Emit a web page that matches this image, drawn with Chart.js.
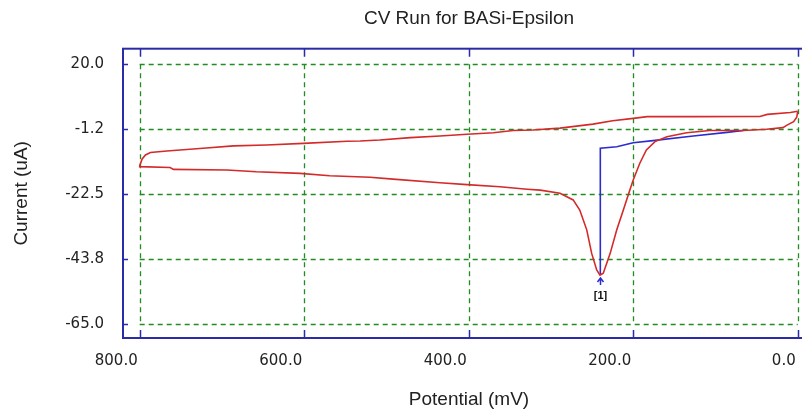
<!DOCTYPE html>
<html>
<head>
<meta charset="utf-8">
<title>CV Run for BASi-Epsilon</title>
<script src="https://cdn.jsdelivr.net/npm/chart.js@4.4.1/dist/chart.umd.min.js"></script>
<style>
  html, body { margin: 0; padding: 0; background: #fff; overflow: hidden; }
  #wrap { width: 815px; height: 413px; }
</style>
</head>
<body>
<div id="wrap"><canvas id="myChart" width="815" height="413"></canvas></div>
<script>
// axis ticks
const potentialTicks = [800, 600, 400, 200, 0]
const potentialTickLabels = ['800.0', '600.0', '400.0', '200.0', '0.0']
const currentTicks = [20, -1.25, -22.5, -43.75, -65]
const currentTickLabels = ['20.0', '-1.2', '-22.5', '-43.8', '-65.0']

// CV trace (mV, uA), upper branch 0 -> 800 then lower branch back to 0
const cvPotential = [0, 9, 37, 46, 127, 183, 200, 225, 249, 289, 322, 346, 370, 402, 435, 471, 508, 532, 548, 601, 646, 686, 723, 767, 787, 793, 797, 800,
  800, 763, 759, 694, 658, 605, 569, 520, 492, 435, 402, 362, 329, 313, 289, 273, 265, 256.5, 250.5, 244.4, 240.4, 236.4, 228, 220, 212, 204, 200, 192, 184, 173.5, 159, 135, 107, 66, 38, 18, 13, 5, 1.2, 0]
const cvCurrent = [4.6, 4.2, 3.6, 2.9, 2.85, 2.85, 2.3, 1.5, 0.4, -0.9, -1.5, -1.7, -2.4, -2.9, -3.5, -4.0, -4.8, -5.1, -5.2, -5.9, -6.4, -6.7, -7.5, -8.4, -8.9, -9.7, -11.0, -13.2,
  -13.5, -13.8, -14.4, -14.6, -15.2, -15.7, -16.5, -17.0, -17.6, -18.8, -19.4, -20.1, -20.9, -21.2, -22.2, -24.4, -27.7, -34.2, -41.9, -47.3, -49.0, -48.4, -41.9, -34.2, -27.7, -21.1, -17.9, -12.4, -8.05, -5.3, -3.7, -2.4, -1.7, -1.7, -1.25, -0.75, 0.1, 1.2, 2.65, 4.6]

// peak baseline
const baselinePotential = [240, 240, 220, 200, 176, 127, 86, 66]
const baselineCurrent = [-49.0, -7.5, -7.0, -5.7, -5.0, -3.5, -2.3, -1.7]

const peakPotential = 240
const peakCurrent = -49.0
const peakLabel = '[1]'

function toPoints(xs, ys) {
  return xs.map((v, i) => ({x: v, y: ys[i]}))
}

const dashedGrid = {
  id: 'dashedGrid',
  beforeDatasetsDraw(chart) {
    const {ctx, scales: {x, y}} = chart
    const left = x.getPixelForValue(potentialTicks[0])
    const right = x.getPixelForValue(potentialTicks[potentialTicks.length - 1])
    const top = y.getPixelForValue(currentTicks[0])
    const bottom = y.getPixelForValue(currentTicks[currentTicks.length - 1])
    ctx.save()
    ctx.strokeStyle = '#228b22'
    ctx.lineWidth = 1.3
    ctx.setLineDash([5, 4])
    potentialTicks.forEach(v => {
      const px = Math.round(x.getPixelForValue(v)) + 0.5
      ctx.beginPath(); ctx.moveTo(px, top); ctx.lineTo(px, bottom); ctx.stroke()
    })
    currentTicks.forEach(v => {
      const py = Math.round(y.getPixelForValue(v)) + 0.5
      ctx.beginPath(); ctx.moveTo(left, py); ctx.lineTo(right, py); ctx.stroke()
    })
    ctx.restore()
  }
}

const frame = {
  id: 'frame',
  afterDraw(chart) {
    const {ctx, chartArea: a, scales: {x, y}} = chart
    ctx.save()
    ctx.strokeStyle = '#2b2ba8'
    ctx.lineWidth = 2
    ctx.strokeRect(a.left, a.top, a.right - a.left, a.bottom - a.top)
    ctx.lineWidth = 1.5
    potentialTicks.forEach(v => {
      const px = Math.round(x.getPixelForValue(v)) + 0.5
      ctx.beginPath()
      ctx.moveTo(px, a.top); ctx.lineTo(px, a.top + 8)
      ctx.moveTo(px, a.bottom); ctx.lineTo(px, a.bottom - 8)
      ctx.stroke()
    })
    currentTicks.forEach(v => {
      const py = Math.round(y.getPixelForValue(v)) + 0.5
      ctx.beginPath()
      ctx.moveTo(a.left, py); ctx.lineTo(a.left + 5, py)
      ctx.moveTo(a.right, py); ctx.lineTo(a.right - 5, py)
      ctx.stroke()
    })
    ctx.restore()
  }
}

const peakMarker = {
  id: 'peakMarker',
  afterDatasetsDraw(chart) {
    const {ctx, scales: {x, y}} = chart
    const px = Math.round(x.getPixelForValue(peakPotential)) + 0.5
    const py = y.getPixelForValue(peakCurrent)
    ctx.save()
    ctx.strokeStyle = '#2b2bd0'
    ctx.lineWidth = 1.5
    ctx.beginPath()
    ctx.moveTo(px, py + 3); ctx.lineTo(px, py + 10)
    ctx.moveTo(px - 3, py + 7); ctx.lineTo(px, py + 3); ctx.lineTo(px + 3, py + 7)
    ctx.stroke()
    ctx.fillStyle = '#111'
    ctx.font = 'bold 11px "Liberation Sans"'
    ctx.textAlign = 'center'
    ctx.textBaseline = 'middle'
    ctx.fillText(peakLabel, px, py + 21)
    ctx.restore()
  }
}

function initChart() {
  const ctx = document.getElementById('myChart').getContext('2d')
  return new Chart(ctx, {
    type: 'scatter',
    data: {
      datasets: [{
        label: 'CV',
        data: toPoints(cvPotential, cvCurrent),
        showLine: true,
        borderColor: '#d42a2a',
        borderWidth: 1.6,
        pointRadius: 0,
        tension: 0
      }, {
        label: 'Baseline',
        data: toPoints(baselinePotential, baselineCurrent),
        showLine: true,
        borderColor: '#2b2bd0',
        borderWidth: 1.6,
        pointRadius: 0,
        tension: 0
      }]
    },
    options: {
      responsive: false,
      animation: false,
      layout: { padding: 0 },
      plugins: {
        legend: { display: false },
        tooltip: { enabled: false },
        title: {
          display: true,
          text: 'CV Run for BASi-Epsilon',
          fullSize: false,
          color: '#222',
          font: { family: 'Liberation Sans', size: 19, weight: 'normal' },
          padding: { top: 7.6, bottom: 18.3 }
        }
      },
      scales: {
        x: {
          type: 'linear',
          reverse: true,
          bounds: 'data',
          min: -21.0,
          max: 820.3,
          afterBuildTicks: s => { s.ticks = potentialTicks.map(v => ({value: v})) },
          afterFit: s => { s.height = 75 },
          grid: { display: false, drawTicks: false },
          border: { display: false },
          ticks: {
            align: 'end',
            labelOffset: -2,
            padding: 14,
            color: '#222',
            font: { family: 'DejaVu Sans', size: 15 },
            callback: v => potentialTickLabels[potentialTicks.indexOf(v)]
          },
          title: {
            display: true,
            text: 'Potential (mV)',
            color: '#222',
            font: { family: 'Liberation Sans', size: 19 },
            padding: { top: 0, bottom: 1.6 }
          }
        },
        y: {
          type: 'linear',
          bounds: 'data',
          min: -69.6,
          max: 25.1,
          afterBuildTicks: s => { s.ticks = currentTicks.map(v => ({value: v})) },
          afterFit: s => { s.width = 123 },
          grid: { display: false, drawTicks: false },
          border: { display: false },
          ticks: {
            padding: 19,
            color: '#222',
            font: { family: 'DejaVu Sans', size: 15 },
            callback: v => currentTickLabels[currentTicks.indexOf(v)]
          },
          title: {
            display: true,
            text: 'Current (uA)',
            color: '#222',
            font: { family: 'Liberation Sans', size: 19 },
            padding: { top: 10.6, bottom: 0 }
          }
        }
      }
    },
    plugins: [dashedGrid, frame, peakMarker]
  })
}

document.addEventListener('DOMContentLoaded', function() {
  initChart()
})
</script>
</body>
</html>
